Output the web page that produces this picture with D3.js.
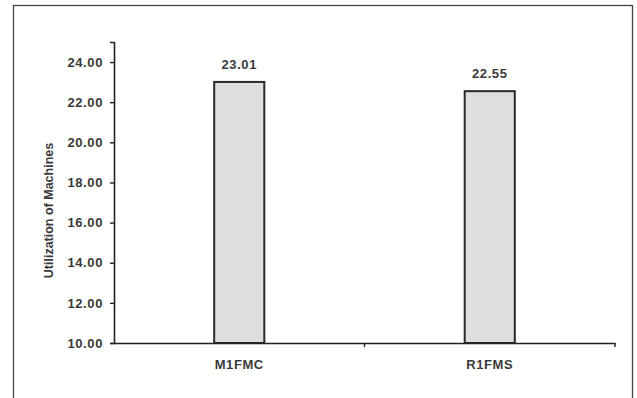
<!DOCTYPE html>
<html><head><meta charset="utf-8">
<script src="https://cdn.jsdelivr.net/npm/d3@7"></script>
<style>body{margin:0;background:#fff}svg{display:block}</style>
</head><body>
<svg id="c" width="637" height="398"></svg>
<script>
const categories = ["M1FMC", "R1FMS"];
const values = [23.01, 22.55];
const yTicks = [10, 12, 14, 16, 18, 20, 22, 24];
const yLabel = "Utilization of Machines";

const svg = d3.select("#c");
const W = 637, H = 398;
const m = {left: 114, right: 22, top: 42, bottom: 55};
const font = "Arial, 'Liberation Sans', sans-serif";

// outer frame
svg.append("rect").attr("x", 13.5).attr("y", 5.5).attr("width", 619).attr("height", 420)
  .attr("fill", "none").attr("stroke", "#444").attr("stroke-width", 1.3);

const x = d3.scaleBand().domain(categories).range([m.left, W - m.right]).paddingInner(0.8).paddingOuter(0.4);
const y = d3.scaleLinear().domain([10, 25]).range([H - m.bottom, m.top]);

// bars
const g = svg.append("g");
g.selectAll("rect.bar").data(categories).join("rect").attr("class", "bar")
  .attr("x", d => x(d)).attr("width", x.bandwidth())
  .attr("y", (d, i) => y(values[i])).attr("height", (d, i) => y(10) - y(values[i]))
  .attr("fill", "#dedede").attr("stroke", "#2a2a2a").attr("stroke-width", 2);

g.selectAll("text.val").data(categories).join("text").attr("class", "val")
  .attr("x", d => x(d) + x.bandwidth() / 2).attr("y", (d, i) => y(values[i]) - 13)
  .attr("text-anchor", "middle").attr("font-family", font).attr("font-size", 13)
  .attr("font-weight", "bold").attr("letter-spacing", 0.6).attr("fill", "#3a3a3a")
  .text((d, i) => values[i].toFixed(2));

// y axis
const yAxis = svg.append("g").attr("transform", `translate(${m.left},0)`)
  .call(d3.axisLeft(y).tickValues(yTicks).tickFormat(d3.format(".2f")).tickSize(4).tickPadding(7));
yAxis.select(".domain").attr("stroke", "#222").attr("stroke-width", 1.6);
yAxis.selectAll(".tick line").attr("stroke", "#222").attr("stroke-width", 1.4);
yAxis.selectAll(".tick text").attr("font-family", font).attr("font-size", 13)
  .attr("font-weight", "bold").attr("letter-spacing", 0.6).attr("fill", "#3a3a3a");

// x axis
const xAxis = svg.append("g").attr("transform", `translate(0,${y(10)})`)
  .call(d3.axisBottom(x).tickSize(0).tickPadding(17));
xAxis.select(".domain").attr("stroke", "#222").attr("stroke-width", 1.6);
xAxis.selectAll(".tick text").attr("font-family", font).attr("font-size", 13)
  .attr("font-weight", "bold").attr("letter-spacing", 0.6).attr("fill", "#3a3a3a");
// band boundary ticks
const bounds = [m.left, m.left + (W - m.right - m.left) / 2, W - m.right];
xAxis.selectAll("line.bt").data(bounds.slice(1)).join("line").attr("class", "bt")
  .attr("x1", d => d).attr("x2", d => d).attr("y1", 0).attr("y2", 4)
  .attr("stroke", "#222").attr("stroke-width", 1.4);

// y label
svg.append("text").attr("transform", `translate(53,${(m.top + H - m.bottom) / 2 + 18}) rotate(-90)`)
  .attr("text-anchor", "middle").attr("font-family", font).attr("font-size", 12.5)
  .attr("font-weight", "bold").attr("fill", "#3a3a3a").text(yLabel);
</script>
</body></html>
